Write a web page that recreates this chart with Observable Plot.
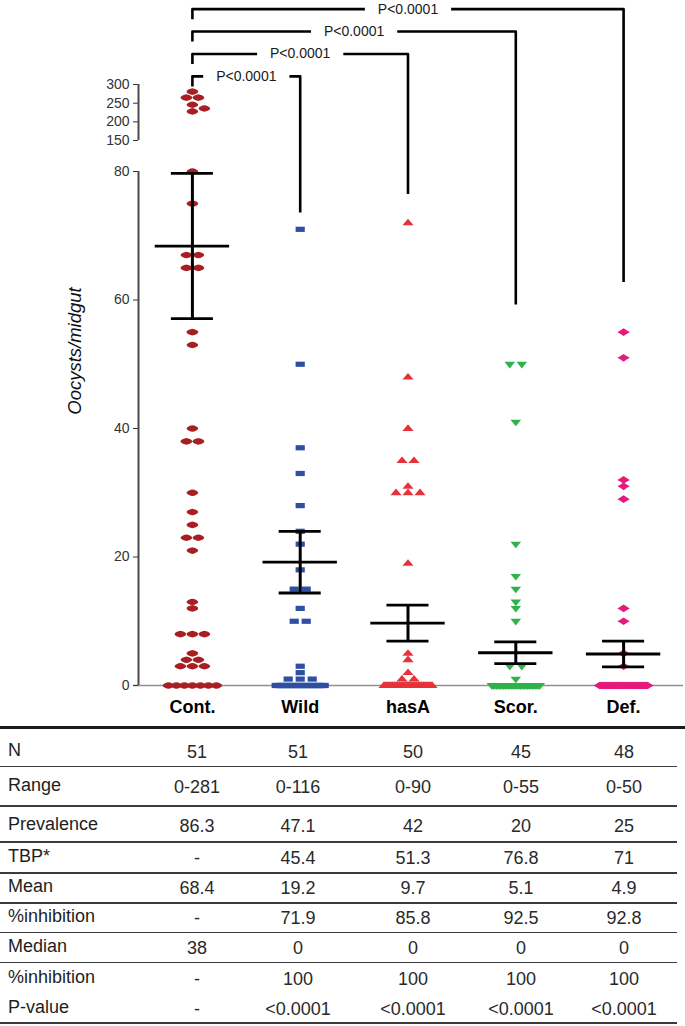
<!DOCTYPE html>
<html><head><meta charset="utf-8">
<script src="https://cdn.jsdelivr.net/npm/d3@7"></script>
<script src="https://cdn.jsdelivr.net/npm/@observablehq/plot@0.6"></script>
<style>
body{margin:0;background:#fff;font-family:"Liberation Sans",Arial,sans-serif;}
#wrap{position:relative;width:685px;height:1026px;overflow:hidden;}
#chart svg{display:block;}
g[aria-label="x-axis tick label"] text{font-weight:700;font-size:18px;}
g[aria-label="y-axis tick label"] text{font-size:14px;}
#table{position:absolute;left:0;top:726px;width:685px;height:300px;}
.hline{position:absolute;left:0;}
.cell{position:absolute;font-size:18px;line-height:18px;color:#2a2a2a;white-space:nowrap;}
.lab{left:8px;color:#1e1e1e;}
.val{transform:translateX(-50%);}
</style></head><body>
<div id="wrap"><div id="chart"></div><div id="table"></div></div>
<script>
// ---------- data ----------
const categories = ["Cont.", "Wild", "hasA", "Scor.", "Def."];
const contValues = [281, 265, 265, 246, 236, 228, 80, 75, 67, 67, 65, 65, 55, 53, 40, 38, 38, 30, 27, 25, 23, 23, 21, 13, 12, 8, 8, 8, 5, 4, 4, 3, 3, 3, 0, 0, 0, 0, 0, 0, 0];
const wildValues = [71, 50, 37, 33, 28, 24, 22, 18, 15, 15, 12, 10, 10, 3, 2, 1, 1, 1, 0, 0, 0, 0, 0, 0, 0, 0, 0, 0, 0, 0, 0, 0, 0, 0, 0, 0, 0, 0, 0, 0, 0, 0, 0, 0, 0];
const hasAValues = [72, 48, 40, 35, 35, 31, 30, 30, 30, 19, 5, 4, 2, 1, 1, 0, 0, 0, 0, 0, 0, 0, 0, 0, 0, 0, 0, 0, 0, 0, 0, 0, 0, 0, 0, 0, 0, 0, 0, 0, 0, 0, 0, 0];
const scorValues = [50, 50, 41, 22, 17, 15, 13, 12, 10, 3, 3, 1, 0, 0, 0, 0, 0, 0, 0, 0, 0, 0, 0, 0, 0, 0, 0, 0, 0, 0, 0, 0, 0, 0, 0, 0, 0, 0, 0, 0, 0, 0, 0, 0, 0];
const defValues = [55, 51, 32, 31, 29, 12, 10, 5, 3, 0, 0, 0, 0, 0, 0, 0, 0, 0, 0, 0, 0, 0, 0, 0, 0, 0, 0, 0, 0, 0, 0, 0, 0, 0, 0, 0, 0, 0, 0, 0, 0, 0, 0, 0, 0, 0, 0, 0];
const meanValues = [68.4, 19.2, 9.7, 5.1, 4.9];
const semValues = [11.3, 4.8, 2.8, 1.7, 2.0];
const lowerTicks = [0, 20, 40, 60, 80];
const upperTicks = [150, 200, 250, 300];
const comparisonTargets = ["Wild", "hasA", "Scor.", "Def."];
const comparisonLabels = ["P<0.0001", "P<0.0001", "P<0.0001", "P<0.0001"];
const bracketEnds = [73.6, 76.5, 59.3, 62.8];

const rowLabels = ["N", "Range", "Prevalence", "TBP*", "Mean", "%inhibition", "Median", "%inhibition", "P-value"];
const nRow = ["51", "51", "50", "45", "48"];
const rangeRow = ["0-281", "0-116", "0-90", "0-55", "0-50"];
const prevalenceRow = ["86.3", "47.1", "42", "20", "25"];
const tbpRow = ["-", "45.4", "51.3", "76.8", "71"];
const meanRow = ["68.4", "19.2", "9.7", "5.1", "4.9"];
const inhibMeanRow = ["-", "71.9", "85.8", "92.5", "92.8"];
const medianRow = ["38", "0", "0", "0", "0"];
const inhibMedianRow = ["-", "100", "100", "100", "100"];
const pValueRow = ["-", "<0.0001", "<0.0001", "<0.0001", "<0.0001"];

// ---------- broken y axis helper ----------
const BREAK_LO = 80, BREAK_HI = 150, BREAK_GAP = 4.82, UPPER_K = 0.0581;
const brk = v => v <= BREAK_LO ? v : BREAK_LO + BREAK_GAP + (v - BREAK_HI) * UPPER_K;
const PX_PER_Y = 6.425;      // px per (broken) y unit
const PX_PER_X = 107.8;      // px per category

function layout(values, gi) {
  const STEP = 12, MAXSPAN = 48, BW = 10, BH = 6;
  const groups = d3.groups(values, v => v).sort((a, b) => b[0] - a[0]);
  const placed = [], out = [];
  for (const [v, arr] of groups) {
    const k = arr.length, ypx = brk(v) * PX_PER_Y;
    let offs;
    if (k === 1) {
      let best = 0;
      for (const c of [0, 6, -6, 12, -12, 18, -18]) {
        if (!placed.some(p => Math.abs(p.y - ypx) < BH && Math.abs(p.x - c) < BW)) { best = c; break; }
      }
      offs = [best];
    } else {
      const step = Math.min(STEP, MAXSPAN / (k - 1));
      offs = arr.map((_, j) => (j - (k - 1) / 2) * step);
    }
    for (const o of offs) { placed.push({x: o, y: ypx}); out.push({gi, value: v, x: gi + o / PX_PER_X}); }
  }
  return out;
}

// custom symbols
function ellipseSym(a, b) {
  return {draw(ctx) {
    const n = 20;
    for (let i = 0; i < n; i++) {
      const t = (i / n) * 2 * Math.PI;
      const px = a * Math.cos(t), py = b * Math.sin(t) * (1 - 0.25 * Math.abs(Math.cos(t)));
      i ? ctx.lineTo(px, py) : ctx.moveTo(px, py);
    }
    ctx.closePath();
  }};
}
const rectSym = {draw(ctx) { ctx.moveTo(-4.6, -2.6); ctx.lineTo(4.6, -2.6); ctx.lineTo(4.6, 2.6); ctx.lineTo(-4.6, 2.6); ctx.closePath(); }};
const triUp = {draw(ctx) { ctx.moveTo(0, -4.2); ctx.lineTo(5.6, 2.4); ctx.lineTo(-5.6, 2.4); ctx.closePath(); }};
const triDown = {draw(ctx) { ctx.moveTo(0, 4.2); ctx.lineTo(5.3, -2.4); ctx.lineTo(-5.3, -2.4); ctx.closePath(); }};
const diamondSym = {draw(ctx) { ctx.moveTo(0, -3.8); ctx.quadraticCurveTo(3, -1.8, 6.2, 0); ctx.quadraticCurveTo(3, 1.8, 0, 3.8); ctx.quadraticCurveTo(-3, 1.8, -6.2, 0); ctx.quadraticCurveTo(-3, -1.8, 0, -3.8); ctx.closePath(); }};

const series = [
  {values: contValues, symbol: ellipseSym(5.8, 3.3), fill: "#a81e22"},
  {values: wildValues, symbol: rectSym, fill: "#2f4fa3"},
  {values: hasAValues, symbol: triUp, fill: "#e8323a"},
  {values: scorValues, symbol: triDown, fill: "#2fb24b"},
  {values: defValues, symbol: diamondSym, fill: "#e61a7c"}
];

const stats = categories.map((c, gi) => ({gi, mean: meanValues[gi], lo: meanValues[gi] - semValues[gi], hi: meanValues[gi] + semValues[gi]}));
const caps = stats.flatMap(d => [{gi: d.gi, v: d.lo}, {gi: d.gi, v: d.hi}]);

// brackets (levels computed in the upper segment above the top tick)
const LEVEL0 = 322, LEVEL_STEP = 60, DROP = 27, GAPX = 0.4;
const bracketSegs = [], bracketText = [];
comparisonTargets.forEach((t, i) => {
  const tx = categories.indexOf(t), top = LEVEL0 + i * LEVEL_STEP, mid = tx / 2;
  bracketSegs.push({id: i + "a", x: 0, y: top - DROP}, {id: i + "a", x: 0, y: top}, {id: i + "a", x: mid - GAPX, y: top});
  bracketSegs.push({id: i + "b", x: mid + GAPX, y: top}, {id: i + "b", x: tx, y: top}, {id: i + "b", x: tx, y: bracketEnds[i]});
  bracketText.push({x: mid, y: top, label: comparisonLabels[i]});
});
const axisLine = ticks => Plot.ruleX([-0.5], {y1: brk(d3.min(ticks)), y2: brk(d3.max(ticks)), stroke: "#4a4a4a", strokeWidth: 2});
const tickAxis = ticks => {
  const inv = new Map(ticks.map(t => [brk(t), t]));
  return Plot.axisY({ticks: ticks.map(brk), tickFormat: d => String(inv.get(d)), tickSize: 5, tickPadding: 4, fontSize: 14, color: "#333", label: null});
};

const chart = Plot.plot({
  width: 685, height: 727,
  marginLeft: 138, marginRight: 8, marginTop: 0, marginBottom: 42,
  x: {domain: [-0.5, 4.5], axis: null},
  y: {domain: [0, 685 / PX_PER_Y], axis: null},
  style: {fontFamily: "'Liberation Sans', Arial, sans-serif"},
  marks: [
    Plot.ruleY([0], {stroke: "#8f8f8f", strokeWidth: 1.3, insetLeft: -5, insetRight: -6}),
    tickAxis(lowerTicks),
    tickAxis(upperTicks),
    Plot.axisX({ticks: [0, 1, 2, 3, 4], tickFormat: i => categories[i], tickSize: 0, tickPadding: 15, fontSize: 18, fontWeight: "bold", color: "#000", label: null}),
    Plot.text(["Oocysts/midgut"], {frameAnchor: "left", textAnchor: "middle", dx: -63, dy: 8, rotate: -90, fontSize: 18.5, fontStyle: "italic", fill: "#111"}),
    ...series.map((s, gi) => Plot.dot(layout(s.values, gi), {x: "x", y: d => brk(d.value), symbol: s.symbol, fill: s.fill, stroke: null})),
    Plot.ruleX(stats, {x: "gi", y1: "lo", y2: "hi", stroke: "#000", strokeWidth: 3}),
    Plot.ruleY(caps, {y: "v", x1: d => d.gi - 0.195, x2: d => d.gi + 0.195, stroke: "#000", strokeWidth: 2.8}),
    Plot.ruleY(stats, {y: "mean", x1: d => d.gi - 0.345, x2: d => d.gi + 0.345, stroke: "#000", strokeWidth: 2.8}),
    Plot.line(bracketSegs, {x: "x", y: d => brk(d.y), z: "id", stroke: "#000", strokeWidth: 2.6, strokeLinejoin: "round", strokeLinecap: "butt"}),
    Plot.text(bracketText, {x: "x", y: d => brk(d.y), text: "label", fontSize: 14, fill: "#1a1a1a"}),
    axisLine(lowerTicks),
    axisLine(upperTicks)
  ]
});
document.getElementById("chart").appendChild(chart);

// ---------- table (y positions relative to the table's top at 726px) ----------
const TOP = 726;
const tableValues = [nRow, rangeRow, prevalenceRow, tbpRow, meanRow, inhibMeanRow, medianRow, inhibMedianRow, pValueRow];
const colCenters = [197, 298, 413, 521, 624];
const textCenters = [751.5, 787, 825.5, 858, 888, 918, 948, 978.5, 1009];
const lineYs = [766.5, 806, 842, 873, 903, 932.5, 962.5, 1023];
const tbl = document.getElementById("table");
const thick = document.createElement("div");
thick.className = "hline"; thick.style.cssText = "top:0px;width:685px;height:3px;background:#1c1c1c;";
tbl.appendChild(thick);
lineYs.forEach(y => {
  const d = document.createElement("div");
  d.className = "hline"; d.style.cssText = `top:${y - 0.75 - TOP}px;width:677px;height:1.5px;background:#3c3c3c;`;
  tbl.appendChild(d);
});
rowLabels.forEach((lab, r) => {
  const l = document.createElement("div");
  l.className = "cell lab"; l.textContent = lab; l.style.top = (textCenters[r] - 11 - TOP) + "px";
  tbl.appendChild(l);
  tableValues[r].forEach((v, c) => {
    const e = document.createElement("div");
    e.className = "cell val"; e.textContent = v;
    e.style.left = colCenters[c] + "px"; e.style.top = (textCenters[r] - 9 - TOP) + "px";
    tbl.appendChild(e);
  });
});
</script>
</body></html>
